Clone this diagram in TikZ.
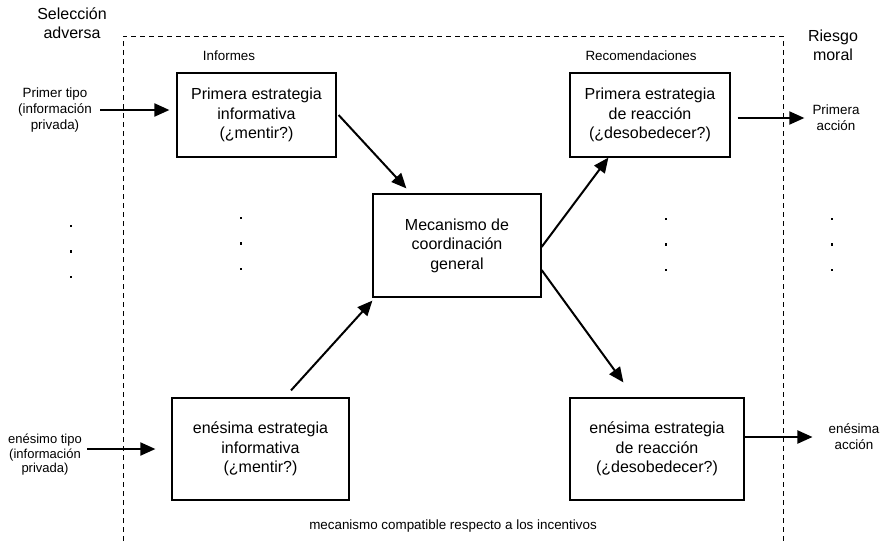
\documentclass[tikz,border=0pt]{standalone}
\usepackage{fontspec}
\setmainfont{Liberation Sans}
\usetikzlibrary{arrows.meta}

\begin{document}
\begin{tikzpicture}[x=1pt,y=-1pt]
        \useasboundingbox (0,0) rectangle (882,541);

        % marco del mecanismo
        \draw[dash pattern=on 5pt off 4pt, line width=0.9pt] (123,541) -- (123,36) -- (783,36) -- (783,541);

        \begin{scope}[every node/.style={draw, line width=1.2pt, align=center, inner sep=2pt, font=\fontsize{16}{19.5}\selectfont}]
            \node[minimum width=159pt, minimum height=84pt] (info1) at (256.5,115) {Primera estrategia\\informativa\\(¿mentir?)};
            \node[minimum width=177pt, minimum height=102pt] (infoN) at (260.5,449) {enésima estrategia\\informativa\\(¿mentir?)};

            \node[minimum width=168pt, minimum height=103pt] (mec) at (457,245.5) {Mecanismo de\\coordinación\\general};

            \node[minimum width=160pt, minimum height=84pt] (reac1) at (650,115) {Primera estrategia\\de reacción\\(¿desobedecer?)};
            \node[minimum width=174pt, minimum height=102pt] (reacN) at (657,449) {enésima estrategia\\de reacción\\(¿desobedecer?)};
        \end{scope}

        \begin{scope}[every node/.style={align=center, inner sep=2pt, font=\fontsize{16}{19}\selectfont}]
            \node (adversa) at (72,23.5) {Selección\\adversa};
            \node (moral) at (833,45) {Riesgo\\moral};
        \end{scope}

        \begin{scope}[every node/.style={align=center, inner sep=2pt, font=\fontsize{13.4}{16}\selectfont}]
            \node (informes) at (229,56) {Informes};
            \node (recom) at (641,56) {Recomendaciones};

            \node (tipo1) at (55,110) {Primer tipo\\(información\\privada)};
            \node[font=\fontsize{13}{14.5}\selectfont] (tipoN) at (45,455) {enésimo tipo\\(información\\privada)};

            \node (accion1) at (836,118) {Primera\\acción};
            \node (accionN) at (854,437) {enésima\\acción};

            \node (incentivos) at (453,526) {mecanismo compatible respecto a los incentivos};
        \end{scope}

        % puntos suspensivos
        \foreach \x/\y in {71/226, 241/218, 666/219, 832/219}
            \foreach \k in {0,1,2}
                \fill ({\x-1.2},{\y+\k*25.5-1.2}) rectangle +(2.4,2.4);

        \begin{scope}[every edge/.style={draw, line width=2pt, -{Triangle[length=15pt,width=13pt]}}]
            \path (tipo1.east) edge[shorten <=6pt, shorten >=7pt] (info1.west |- tipo1.east);
            \path (tipoN.east |- infoN.west) edge[shorten <=3pt, shorten >=16pt] (infoN.west);

            \path ([xshift=2pt]info1.east) edge ([xshift=34pt,yshift=5pt]mec.north west);
            \path ([yshift=7pt,xshift=30.5pt]infoN.north) edge ([yshift=-3pt]mec.south west);

            \path ([yshift=-1.5pt]mec.east) edge ([xshift=39pt]reac1.south west);
            \path ([yshift=-24.5pt]mec.east) edge ([xshift=54pt,yshift=15pt]reacN.north west);

            \path (reac1.east |- accion1.west) edge[shorten <=7pt, shorten >=6pt] (accion1.west);
            \path (reacN.east |- accionN.west) edge[shorten >=14pt] (accionN.west);
        \end{scope}
\end{tikzpicture}
\end{document}
